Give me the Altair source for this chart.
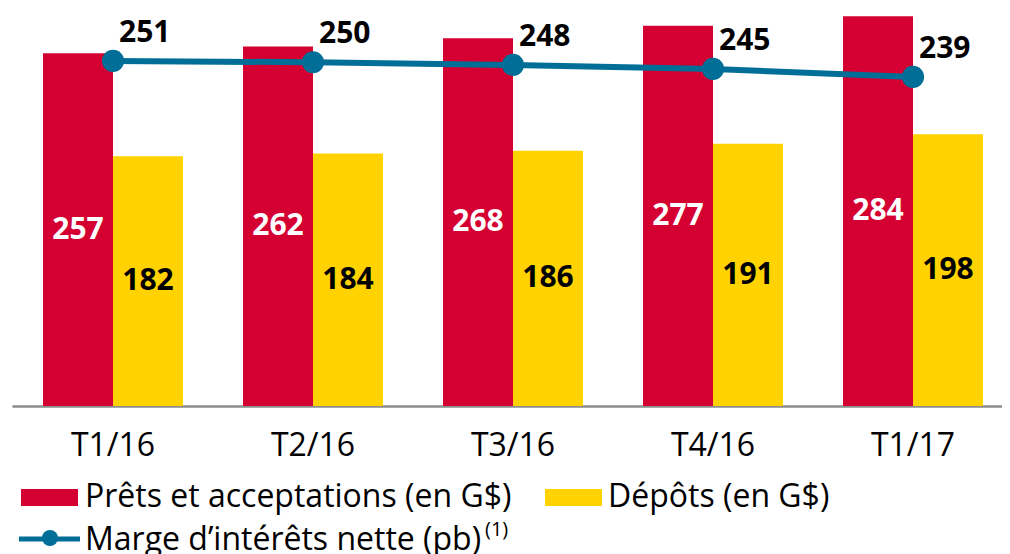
import altair as alt
import pandas as pd

# ---- data ----
quarters = ["T1/16", "T2/16", "T3/16", "T4/16", "T1/17"]
prets = [257, 262, 268, 277, 284]
depots = [182, 184, 186, 191, 198]
marge = [251, 250, 248, 245, 239]
series_names = ["Prêts et acceptations (en G$)", "Dépôts (en G$)"]
line_name = "Marge d’intérêts nette (pb)"
footnote = "(1)"

RED = "#D50032"
YELLOW = "#FFD200"
BLUE = "#006E96"
FONT = "Open Sans"

bars_df = pd.DataFrame({
    "quarter": quarters * 2,
    "series": [series_names[0]] * len(quarters) + [series_names[1]] * len(quarters),
    "value": prets + depots,
})
line_df = pd.DataFrame({"quarter": quarters, "marge": marge})

xenc = alt.X(
    "quarter:N", sort=quarters,
    scale=alt.Scale(paddingInner=0.3, paddingOuter=0.125, align=0.62),
    axis=alt.Axis(title=None, labelFont=FONT, labelFontSize=32, labelColor="black",
                  labelPadding=24, ticks=False, domainColor="#8C8C8C", domainWidth=2.5,
                  labelAngle=0, grid=False),
)
xoff = alt.XOffset("series:N", sort=series_names,
                   scale=alt.Scale(paddingInner=0, paddingOuter=0))
ybar_scale = alt.Scale(domain=[0, 290], nice=False, zero=True)

base = alt.Chart(bars_df)
bars = base.mark_bar().encode(
    x=xenc, xOffset=xoff,
    y=alt.Y("value:Q", scale=ybar_scale, axis=None),
    color=alt.Color("series:N", scale=alt.Scale(domain=series_names, range=[RED, YELLOW]), legend=None),
)
lab_common = dict(font=FONT, fontSize=30, fontWeight="bold", baseline="middle", align="center")
red_labels = base.transform_filter(alt.datum.series == series_names[0]).transform_calculate(
    mid="datum.value/2").mark_text(color="white", **lab_common).encode(
    x=xenc, xOffset=xoff, y=alt.Y("mid:Q", scale=ybar_scale, axis=None), text="value:Q")
yel_labels = base.transform_filter(alt.datum.series == series_names[1]).transform_calculate(
    mid="datum.value/2").mark_text(color="black", **lab_common).encode(
    x=xenc, xOffset=xoff, y=alt.Y("mid:Q", scale=ybar_scale, axis=None), text="value:Q")

bar_group = alt.layer(bars, red_labels, yel_labels)

yline = alt.Y("marge:Q", scale=alt.Scale(domain=[-7.8, 290.7], nice=False, zero=False), axis=None)
lbase = alt.Chart(line_df)
line = lbase.mark_line(color=BLUE, strokeWidth=6).encode(x=xenc, y=yline)
pts = lbase.mark_circle(color=BLUE, size=490, opacity=1).encode(x=xenc, y=yline)
lbls = lbase.mark_text(font=FONT, fontSize=30, fontWeight="bold", align="left",
                       baseline="alphabetic", dx=6, dy=-19, color="black").encode(
    x=xenc, y=yline, text="marge:Q")
line_group = alt.layer(line, pts, lbls)

# ---- custom legend ----
one = pd.DataFrame({"t": [0]})
leg_red = alt.Chart(one).mark_rect(color=RED).encode(
    x=alt.value(9), x2=alt.value(66), y=alt.value(481), y2=alt.value(498))
leg_yel = alt.Chart(one).mark_rect(color=YELLOW).encode(
    x=alt.value(533), x2=alt.value(590), y=alt.value(481), y2=alt.value(498))
leg_txt = dict(font=FONT, fontSize=32, align="left", baseline="alphabetic", color="black")
leg_t1 = alt.Chart(pd.DataFrame({"t": [series_names[0]]})).mark_text(**leg_txt).encode(
    x=alt.value(73), y=alt.value(499), text="t:N")
leg_t2 = alt.Chart(pd.DataFrame({"t": [series_names[1]]})).mark_text(**leg_txt).encode(
    x=alt.value(596), y=alt.value(499), text="t:N")
leg_line = alt.Chart(one).mark_rule(color=BLUE, strokeWidth=5).encode(
    x=alt.value(7), x2=alt.value(68), y=alt.value(531))
leg_pt = alt.Chart(one).mark_circle(color=BLUE, size=260, opacity=1).encode(
    x=alt.value(38), y=alt.value(530))
leg_t3 = alt.Chart(pd.DataFrame({"t": [line_name]})).mark_text(**leg_txt).encode(
    x=alt.value(73), y=alt.value(542), text="t:N")
leg_t4 = alt.Chart(pd.DataFrame({"t": [footnote]})).mark_text(
    font=FONT, fontSize=20, align="left", baseline="alphabetic", color="black").encode(
    x=alt.value(473), y=alt.value(528), text="t:N")

chart = alt.layer(
    bar_group, line_group,
    leg_red, leg_yel, leg_t1, leg_t2, leg_line, leg_pt, leg_t3, leg_t4,
).resolve_scale(y="independent").properties(
    width=990, height=398,
    padding={"left": 4, "top": 0, "right": 0, "bottom": 148},
    autosize=alt.AutoSizeParams(type="none"),
).configure_view(stroke=None).configure_axis(grid=False)

chart.save("out.html", embed_options={"renderer": "svg", "actions": False})
